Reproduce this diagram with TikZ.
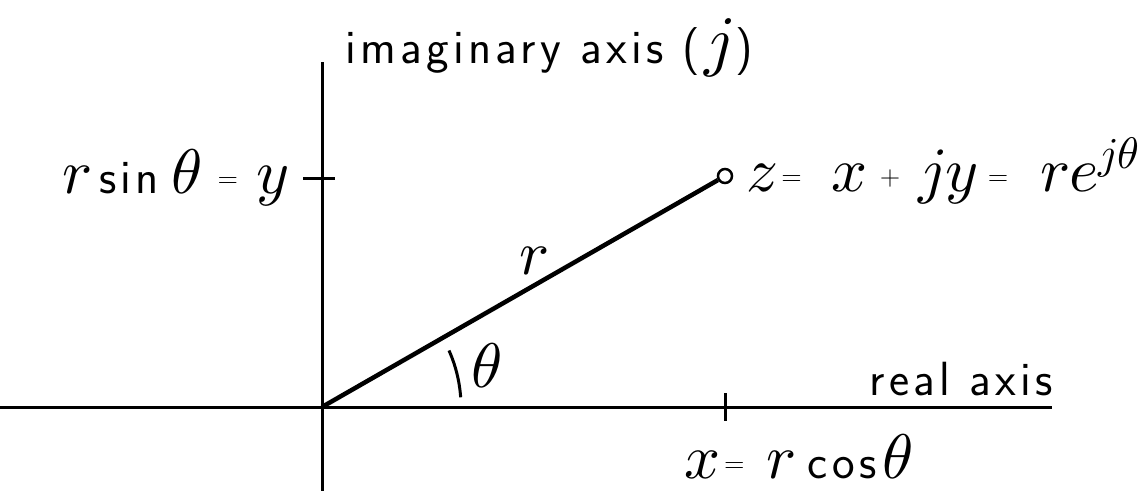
\documentclass[tikz,border=0pt]{standalone}
\usepackage{unicode-math}
\setmathfont{Latin Modern Math}
\setsansfont{Latin Modern Sans}
\newfontfamily\lblfont[LetterSpace=9]{Latin Modern Sans}
\usetikzlibrary{calc}
\tikzset{
  axisline/.style={line width=3pt},
  vecline/.style={line width=4.5pt},
  tickline/.style={line width=3pt},
  lbl/.style={inner sep=0pt, font=\fontsize{48}{52}\lblfont},
}
\newcommand{\mth}[1]{{\fontsize{63}{66}\selectfont$#1$}}
\newcommand{\mthb}[1]{{\fontsize{68}{72}\selectfont$#1$}}
\newcommand{\sml}[1]{\raisebox{6pt}{\fontsize{28}{30}\selectfont\sffamily #1}}
\begin{document}
\begin{tikzpicture}[x=1pt,y=-1pt]
\useasboundingbox (0,0) rectangle (1148,491);
% coordinates
\coordinate (O) at (322,407);
\coordinate (vtop) at (322,62);
\coordinate (vbot) at (322,491);
\coordinate (hleft) at (0,407);
\coordinate (hright) at (1052,407);
\coordinate (Z) at (725,176);
\coordinate (xt1) at (725,393);
\coordinate (xt2) at (725,421);
\coordinate (yt1) at (303,178);
\coordinate (yt2) at (335,178);
% axes
\draw[axisline] (vtop) -- (vbot);
\draw[axisline] (hleft) -- (hright);
\draw[tickline] (xt1) -- (xt2);
\draw[tickline] (yt1) -- (yt2);
% vector
\node[circle, draw, line width=2.5pt, minimum size=14pt, inner sep=0pt] (zc) at (Z) {};
\draw[vecline] (O) -- (zc);
% angle mark
\draw[line width=3pt] ($(O)+(-4:139)$) arc[start angle=-4, end angle=-24, radius=139];
% labels
\node[lbl, anchor=base west] (imag) at (345,63) {imaginary axis (\hspace{4pt}\mthb{j}\hspace{2pt})};
\node[lbl, anchor=base east] (ysin) at (289,193) {\mth{r}\hspace{8pt}sin\hspace{12pt}\mth{\theta}\hspace{16pt}\sml{=}\hspace{18pt}\mth{y}};
\node[lbl, anchor=base west] (zlab) at (746,191) {\mth{z}\hspace{4pt}\sml{=}\hspace{30pt}\mth{x}\hspace{12pt}\sml{+}\hspace{18pt}\mth{jy}\hspace{10pt}\sml{=}\hspace{32pt}\mth{re^{j\theta}}};
\node[inner sep=0pt] (rlab) at (534,261) {\mth{r}};
\node[inner sep=0pt] (thlab) at (487,366) {\mth{\theta}};
\node[lbl, anchor=base east] (real) at (1053,395) {real axis};
\node[lbl, anchor=base west] (xcos) at (684,478) {\mth{x}\hspace{4pt}\sml{=}\hspace{22pt}\mth{r}\hspace{12pt}cos\hspace{6pt}\mth{\theta}};
\end{tikzpicture}
\end{document}
